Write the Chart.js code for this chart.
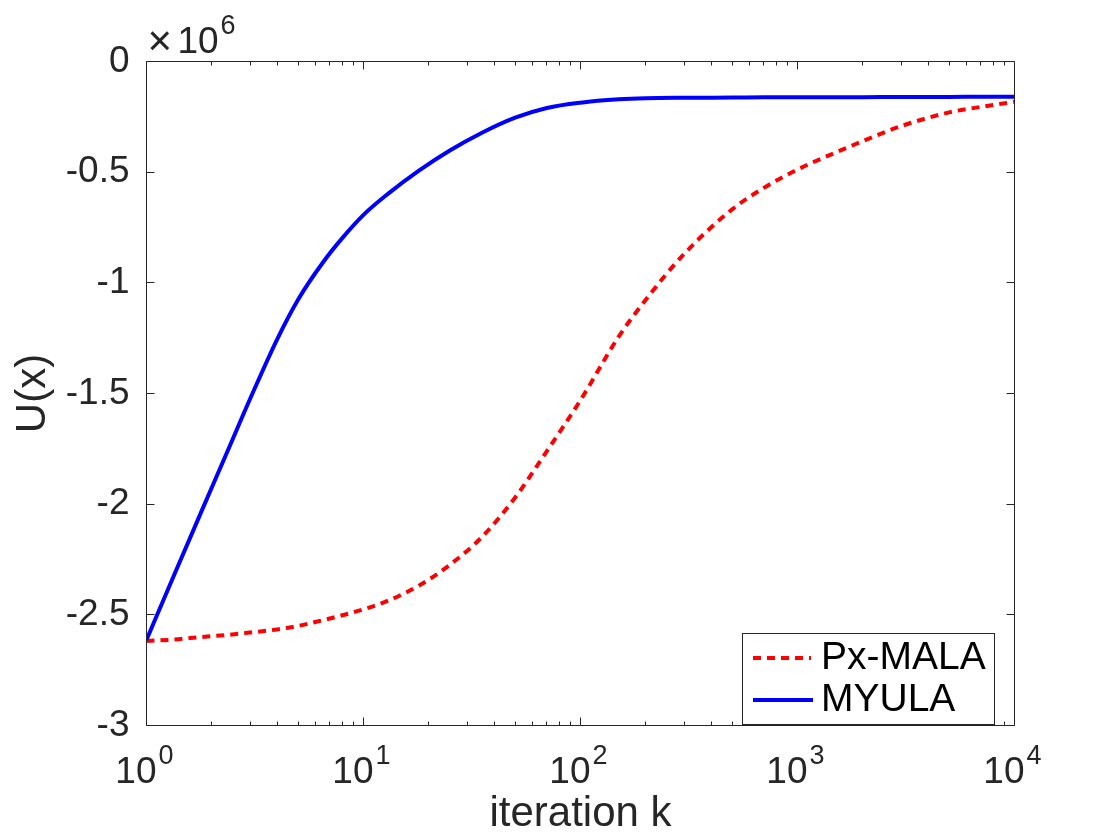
<!DOCTYPE html>
<html>
<head>
<meta charset="utf-8">
<script src="https://cdn.jsdelivr.net/npm/chart.js@4.4.0/dist/chart.umd.min.js"></script>
<style>
html,body{margin:0;padding:0;background:#ffffff;}
#wrap{width:1120px;height:840px;}
</style>
</head>
<body>
<div id="wrap"><canvas id="c" width="1120" height="840"></canvas></div>
<script>
// ---- data ----
const iterations = [1, 1.33, 1.8, 2.4, 3, 4, 5, 6.5, 8, 10, 13, 18, 25, 35, 50, 70, 100, 150, 200, 300, 500, 700, 1000, 1500, 2000, 3000, 5000, 7000, 10000];
const pxMalaValues = [-2618000, -2612000, -2600000, -2590000, -2580000, -2566000, -2550000, -2524000, -2502000, -2475000, -2436000, -2368000, -2274000, -2150000, -1970000, -1760000, -1530000, -1243000, -1076000, -870000, -668000, -571000, -488000, -411000, -360000, -292000, -230000, -205000, -182000];
const myulaValues = [-2613000, -2328000, -2028000, -1745000, -1525000, -1255000, -1075000, -908000, -797000, -693000, -597000, -493000, -402000, -323000, -254000, -210000, -186000, -171000, -166000, -164000, -163000, -162000, -162000, -161000, -161000, -160000, -160000, -159000, -159000];
const seriesLabels = ['Px-MALA', 'MYULA'];
const xTickBase = '10';
const xTickExponents = [0, 1, 2, 3, 4];
const yTickValues = [0, -500000, -1000000, -1500000, -2000000, -2500000, -3000000];
const yTickLabels = ['0', '-0.5', '-1', '-1.5', '-2', '-2.5', '-3'];
const yMultiplierBase = '10';
const yMultiplierExponent = '6';
const xAxisTitle = 'iteration k';
const yAxisTitle = 'U(x)';

const FONT = '"Liberation Sans", Arial, Helvetica, sans-serif';
const AXIS_COLOR = '#262626';

const matlabAxes = {
  id: 'matlabAxes',
  afterDraw(chart) {
    const ctx = chart.ctx;
    const a = chart.chartArea;
    const xs = chart.scales.x;
    const ys = chart.scales.y;
    ctx.save();
    ctx.strokeStyle = AXIS_COLOR;
    ctx.lineWidth = 1;
    ctx.beginPath();
    ctx.rect(a.left, a.top, a.right - a.left, a.bottom - a.top);
    yTickValues.forEach(v => {
      const py = Math.round(ys.getPixelForValue(v) - 0.5) + 0.5;
      ctx.moveTo(a.left, py); ctx.lineTo(a.left + 8, py);
      ctx.moveTo(a.right, py); ctx.lineTo(a.right - 8, py);
    });
    xTickExponents.forEach(e => {
      const px = Math.round(xs.getPixelForValue(Math.pow(10, e)) - 0.5) + 0.5;
      ctx.moveTo(px, a.bottom); ctx.lineTo(px, a.bottom - 8);
      ctx.moveTo(px, a.top); ctx.lineTo(px, a.top + 8);
      if (e < xTickExponents[xTickExponents.length - 1]) {
        for (let m = 2; m <= 9; m++) {
          const qx = Math.round(xs.getPixelForValue(m * Math.pow(10, e)) - 0.5) + 0.5;
          ctx.moveTo(qx, a.bottom); ctx.lineTo(qx, a.bottom - 4);
          ctx.moveTo(qx, a.top); ctx.lineTo(qx, a.top + 4);
        }
      }
    });
    ctx.stroke();

    // x tick labels 10^e
    ctx.fillStyle = AXIS_COLOR;
    ctx.textBaseline = 'alphabetic';
    xTickExponents.forEach(e => {
      const px = xs.getPixelForValue(Math.pow(10, e));
      ctx.font = '37px ' + FONT;
      ctx.textAlign = 'right';
      ctx.fillText(xTickBase, px + 10, 783);
      ctx.font = '27px ' + FONT;
      ctx.textAlign = 'left';
      ctx.fillText(String(e), px + 12, 764);
    });

    // x10^6 multiplier
    ctx.textAlign = 'left';
    ctx.font = '42px ' + FONT;
    ctx.fillText('\u00d7', a.left + 1, 55);
    ctx.font = '37px ' + FONT;
    ctx.fillText(yMultiplierBase, a.left + 31, 53);
    ctx.font = '27px ' + FONT;
    ctx.fillText(yMultiplierExponent, a.left + 74, 34);

    // legend
    const lx = 742.5, ly = 633.5, lw = 252, lh = 91;
    ctx.fillStyle = '#ffffff';
    ctx.fillRect(lx, ly, lw, lh);
    ctx.strokeStyle = AXIS_COLOR;
    ctx.lineWidth = 1;
    ctx.strokeRect(lx, ly, lw, lh);
    const rows = [658, 700];
    const baselines = [669, 711];
    chart.data.datasets.forEach((ds, i) => {
      ctx.save();
      ctx.strokeStyle = ds.borderColor;
      ctx.lineWidth = ds.borderWidth;
      ctx.setLineDash(ds.borderDash || []);
      ctx.beginPath();
      ctx.moveTo(753, rows[i]);
      ctx.lineTo(i === 0 ? 811 : 813, rows[i]);
      ctx.stroke();
      ctx.restore();
      ctx.fillStyle = '#000000';
      ctx.font = '39px ' + FONT;
      ctx.textAlign = 'left';
      ctx.fillText(ds.label, 821, baselines[i]);
    });
    ctx.restore();
  }
};

const toPoints = vals => iterations.map((k, i) => ({ x: k, y: vals[i] }));

new Chart(document.getElementById('c'), {
  type: 'line',
  data: {
    datasets: [
      {
        label: seriesLabels[0],
        data: toPoints(pxMalaValues),
        borderColor: '#ff0000',
        borderWidth: 4,
        borderDash: [8, 6],
        pointRadius: 0,
        fill: false,
        cubicInterpolationMode: 'monotone',
        order: 1
      },
      {
        label: seriesLabels[1],
        data: toPoints(myulaValues),
        borderColor: '#0000ff',
        borderWidth: 4,
        pointRadius: 0,
        fill: false,
        cubicInterpolationMode: 'monotone',
        order: 0
      }
    ]
  },
  options: {
    responsive: false,
    animation: false,
    devicePixelRatio: 1,
    layout: { padding: { left: 0, right: 105.5, top: 61.5, bottom: 0 } },
    plugins: { legend: { display: false }, tooltip: { enabled: false } },
    scales: {
      x: {
        type: 'logarithmic',
        min: 1,
        max: 10000,
        grid: { display: false, drawTicks: false },
        border: { display: false },
        ticks: { display: false },
        title: {
          display: true,
          text: xAxisTitle,
          color: AXIS_COLOR,
          font: { family: FONT, size: 42 },
          padding: { top: 0, bottom: 0 }
        },
        afterFit(s) { s.height = 114.5; }
      },
      y: {
        type: 'linear',
        min: -3000000,
        max: 0,
        grid: { display: false, drawTicks: false },
        border: { display: false },
        afterBuildTicks(s) { s.ticks = yTickValues.map(v => ({ value: v })); },
        ticks: {
          color: AXIS_COLOR,
          font: { family: FONT, size: 37 },
          padding: 17,
          callback: (v) => { const i = yTickValues.indexOf(v); return i >= 0 ? yTickLabels[i] : ''; }
        },
        title: {
          display: true,
          text: yAxisTitle,
          color: AXIS_COLOR,
          font: { family: FONT, size: 42 },
          padding: { top: 8, bottom: 0 }
        },
        afterFit(s) { s.width = 146.5; }
      }
    }
  },
  plugins: [matlabAxes]
});
</script>
</body>
</html>
